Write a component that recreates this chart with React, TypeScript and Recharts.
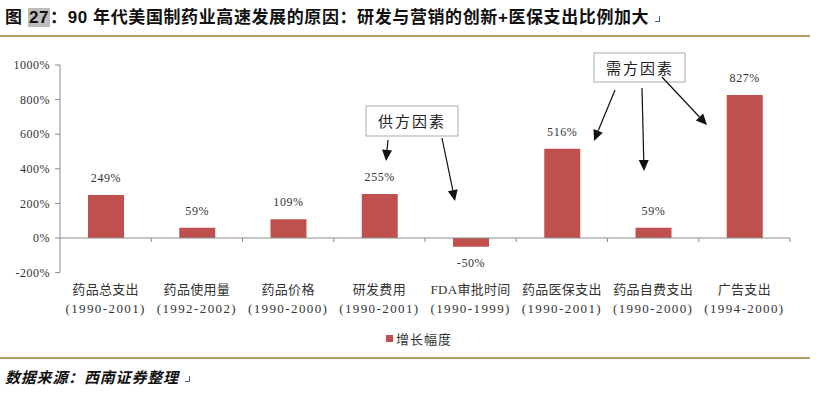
import React from 'react';
import { BarChart, Bar, XAxis, YAxis, ReferenceLine, LabelList } from 'recharts';

const categories = ['药品总支出', '药品使用量', '药品价格', '研发费用', 'FDA审批时间', '药品医保支出', '药品自费支出', '广告支出'];
const periods = ['(1990-2001)', '(1992-2002)', '(1990-2000)', '(1990-2001)', '(1990-1999)', '(1990-2001)', '(1990-2000)', '(1994-2000)'];
const growth = [249, 59, 109, 255, -50, 516, 59, 827];
const yTicks = [-200, 0, 200, 400, 600, 800, 1000];

const data = categories.map((name, i) => ({ name, period: periods[i], growth: growth[i] }));

const W = 820;
const H = 394;
const PLOT_LEFT = 60;
const PLOT_RIGHT = 790;
const PLOT_TOP = 65;
const PLOT_BOTTOM = 272.6;
const BAND = (PLOT_RIGHT - PLOT_LEFT) / categories.length;
const ZERO_OFFSET = ((0 - yTicks[0]) / (yTicks[yTicks.length - 1] - yTicks[0])) * (PLOT_BOTTOM - PLOT_TOP);

const BAR_COLOR = '#C0504D';
const AXIS_COLOR = '#8c8c8c';
const GOLD = '#B19C62';
const SERIF = '"Liberation Serif", "Noto Sans CJK SC", serif';
const CJK = '"Noto Sans CJK SC", sans-serif';

const CategoryTick = (props: any) => {
    const { x, y, index } = props;
    const zeroY = y - ZERO_OFFSET;
    const d = data[index];
    return (
        <g>
            {/* tick marks sit on the category boundaries of the zero line */}
            <line x1={x + BAND / 2} x2={x + BAND / 2} y1={zeroY} y2={zeroY + 4} stroke={AXIS_COLOR} />
            <text x={x} y={y + 21} textAnchor="middle" fontSize={13} fill="#333" fontFamily={SERIF} letterSpacing={0.3}>
                {d.name}
            </text>
            <text x={x} y={y + 40} textAnchor="middle" fontSize={13} fill="#333" fontFamily={SERIF} letterSpacing={1.4}>
                {d.period}
            </text>
        </g>
    );
};

const ValueLabel = (props: any) => {
    const { x, y, width, height, value } = props;
    const top = Math.min(y, y + height);
    const bottom = Math.max(y, y + height);
    const ty = value < 0 ? bottom + 20 : top - 13;
    return (
        <text x={x + width / 2} y={ty} textAnchor="middle" fontSize={12} fill="#333" fontFamily={SERIF} letterSpacing={0.6}>
            {value}%
        </text>
    );
};

const Arrow = ({ x1, y1, x2, y2 }: { x1: number; y1: number; x2: number; y2: number }) => {
    const ang = Math.atan2(y2 - y1, x2 - x1);
    const len = 11;
    const half = 5;
    const bx = x2 - len * Math.cos(ang);
    const by = y2 - len * Math.sin(ang);
    const px = -Math.sin(ang) * half;
    const py = Math.cos(ang) * half;
    return (
        <g>
            <line x1={x1} y1={y1} x2={bx} y2={by} stroke="#111" strokeWidth={1.2} />
            <polygon points={`${x2},${y2} ${bx + px},${by + py} ${bx - px},${by - py}`} fill="#111" />
        </g>
    );
};

const CornerMark = () => (
    <span style={{ display: 'inline-block', width: 4, height: 5, borderRight: '1.5px solid #3a5ea8', borderBottom: '1.5px solid #3a5ea8', marginLeft: 6, verticalAlign: 'middle' }} />
);

export default function App() {
    return (
        <div style={{ position: 'fixed', left: 0, top: 0, width: W, height: H, background: '#fff', overflow: 'hidden' }}>
            <div style={{ position: 'absolute', left: 5, top: 3, fontFamily: '"Liberation Sans", "Noto Sans CJK SC", sans-serif', fontWeight: 700, fontSize: 17, letterSpacing: 0.6, color: '#111', whiteSpace: 'nowrap' }}>
                图 <span style={{ background: '#bdbdbd', padding: '0 1px' }}>27</span>：90 年代美国制药业高速发展的原因：研发与营销的创新+医保支出比例加大
                <CornerMark />
            </div>
            <div style={{ position: 'absolute', left: 0, top: 35, width: 810, height: 2, background: GOLD }} />

            <BarChart width={W} height={H} data={data} margin={{ top: PLOT_TOP, right: W - PLOT_RIGHT, bottom: H - PLOT_BOTTOM - 50, left: 0 }} barSize={36}>
                <YAxis
                    width={PLOT_LEFT}
                    domain={[yTicks[0], yTicks[yTicks.length - 1]]}
                    ticks={yTicks}
                    tickFormatter={(v) => `${v}%`}
                    tick={{ fontSize: 12, fill: '#333', fontFamily: SERIF, letterSpacing: 0.5 }}
                    tickSize={5}
                    tickMargin={5}
                    stroke={AXIS_COLOR}
                    axisLine={{ stroke: AXIS_COLOR }}
                    tickLine={{ stroke: AXIS_COLOR }}
                    interval={0}
                />
                <XAxis dataKey="name" height={50} axisLine={false} tickLine={false} tickSize={0} tickMargin={0} interval={0} tick={<CategoryTick />} />
                <ReferenceLine y={0} stroke={AXIS_COLOR} strokeWidth={1} />
                <Bar dataKey="growth" fill={BAR_COLOR} isAnimationActive={false}>
                    <LabelList dataKey="growth" content={<ValueLabel />} />
                </Bar>
            </BarChart>

            <svg width={W} height={H} style={{ position: 'absolute', left: 0, top: 0, pointerEvents: 'none' }}>
                <rect x={366} y={106} width={92} height={30} fill="#fff" stroke="#aaa" />
                <text x={412} y={127} textAnchor="middle" fontSize={15} fontFamily={CJK} fill="#222" letterSpacing={2}>供方因素</text>
                <rect x={594} y={53} width={91} height={29} fill="#fff" stroke="#aaa" />
                <text x={640} y={74} textAnchor="middle" fontSize={15} fontFamily={CJK} fill="#222" letterSpacing={2}>需方因素</text>
                <Arrow x1={388} y1={140} x2={386} y2={161} />
                <Arrow x1={442} y1={138} x2={455} y2={201} />
                <Arrow x1={615} y1={90} x2={594} y2={141} />
                <Arrow x1={642} y1={88} x2={644} y2={171} />
                <Arrow x1={662} y1={77} x2={707} y2={125} />
            </svg>

            <div style={{ position: 'absolute', left: 386, top: 329, display: 'flex', alignItems: 'center', fontFamily: CJK, fontSize: 13, letterSpacing: 1, color: '#333' }}>
                <span style={{ display: 'inline-block', width: 7, height: 7, background: BAR_COLOR, marginRight: 3 }} />
                增长幅度
            </div>
            <div style={{ position: 'absolute', left: 0, top: 357, width: 810, height: 2, background: GOLD }} />
            <div style={{ position: 'absolute', left: 5, top: 366, fontFamily: CJK, fontStyle: 'italic', fontWeight: 700, fontSize: 15, letterSpacing: 0.8, color: '#111', whiteSpace: 'nowrap' }}>
                数据来源：西南证券整理
                <CornerMark />
            </div>
        </div>
    );
}
